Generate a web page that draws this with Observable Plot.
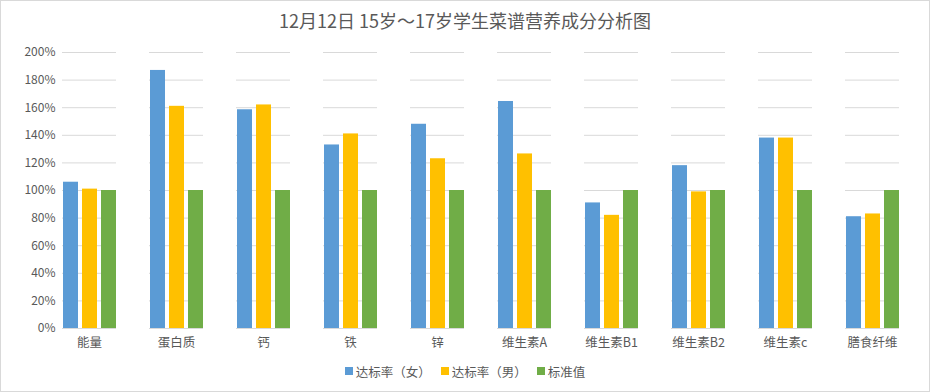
<!DOCTYPE html>
<html>
<head>
<meta charset="utf-8">
<script src="https://cdn.jsdelivr.net/npm/d3@7"></script>
<script src="https://cdn.jsdelivr.net/npm/@observablehq/plot@0.6"></script>
<style>
  html, body { margin: 0; padding: 0; background: #fff; }
  #wrap { position: relative; width: 930px; height: 392px; overflow: hidden; font-family: "Noto Sans CJK SC", "Noto Sans", sans-serif; color: #595959; }
  #border { position: absolute; left: 0; top: 0; width: 930px; height: 392px; box-sizing: border-box; border: 1px solid #d9d9d9; pointer-events: none; }
  #title { position: absolute; left: 0; top: 0; width: 930px; height: 40px; line-height: 40px; text-align: center; font-size: 18px; color: #595959; }
  #chart { position: absolute; left: 0; top: 40px; }
  #legend { position: absolute; left: 0; top: 360px; width: 930px; height: 22px; display: flex; justify-content: center; align-items: center; font-size: 12.5px; color: #595959; gap: 10px; }
  .item { display: flex; align-items: center; gap: 3px; }
  .sw { width: 8px; height: 8px; display: inline-block; }
</style>
</head>
<body>
<div id="wrap">
  <div id="title">12月12日 15岁～17岁学生菜谱营养成分分析图</div>
  <div id="chart"></div>
  <div id="legend"></div>
  <div id="border"></div>
</div>
<script>
const categories = ["能量", "蛋白质", "钙", "铁", "锌", "维生素A", "维生素B1", "维生素B2", "维生素c", "膳食纤维"];
const seriesNames = ["达标率（女）", "达标率（男）", "标准值"];
const femaleRate = [106, 187, 158.5, 133, 148, 164.5, 91, 118, 138, 81];
const maleRate = [101, 161, 162, 141, 123, 126.5, 82, 99, 138, 83];
const standard = [100, 100, 100, 100, 100, 100, 100, 100, 100, 100];
const yTicks = [0, 20, 40, 60, 80, 100, 120, 140, 160, 180, 200];
const colors = ["#5b9bd5", "#ffc000", "#70ad47"];

const seriesValues = [femaleRate, maleRate, standard];
const data = [];
categories.forEach((c, i) => {
  seriesNames.forEach((s, j) => {
    data.push({ category: c, series: s, value: seriesValues[j][i] });
  });
});

const chart = Plot.plot({
  width: 930,
  height: 318,
  marginTop: 12,
  marginBottom: 30,
  marginLeft: 45,
  marginRight: 15,
  style: { fontFamily: '"Noto Sans CJK SC", "Noto Sans", sans-serif', fontSize: "12px", color: "#595959", background: "transparent" },
  fx: { domain: categories, paddingInner: 0.38, paddingOuter: 0.19, label: null, axis: null },
  x: { domain: seriesNames, paddingInner: 0.23, paddingOuter: 0, axis: null },
  y: { domain: [0, 200], label: null },
  color: { domain: seriesNames, range: colors },
  marks: [
    Plot.gridY(yTicks, { stroke: "#d9d9d9", strokeOpacity: 1, strokeWidth: 1 }),
    Plot.barY(data, { fx: "category", x: "series", y: "value", fill: "series" }),
    Plot.ruleY([0], { stroke: "#d9d9d9", strokeWidth: 1 }),
    Plot.axisY(yTicks, { tickSize: 0, tickPadding: 7, tickFormat: d => d + "%", fill: "#595959", fontSize: 12 }),
    Plot.axisFx({ anchor: "bottom", tickSize: 0, tickPadding: 10, fill: "#595959", fontSize: 12.5, label: null })
  ]
});
document.getElementById("chart").appendChild(chart);

const legend = document.getElementById("legend");
seriesNames.forEach((s, i) => {
  const it = document.createElement("div");
  it.className = "item";
  const sw = document.createElement("span");
  sw.className = "sw";
  sw.style.background = colors[i];
  const t = document.createElement("span");
  t.textContent = s;
  it.appendChild(sw);
  it.appendChild(t);
  legend.appendChild(it);
});
</script>
</body>
</html>
